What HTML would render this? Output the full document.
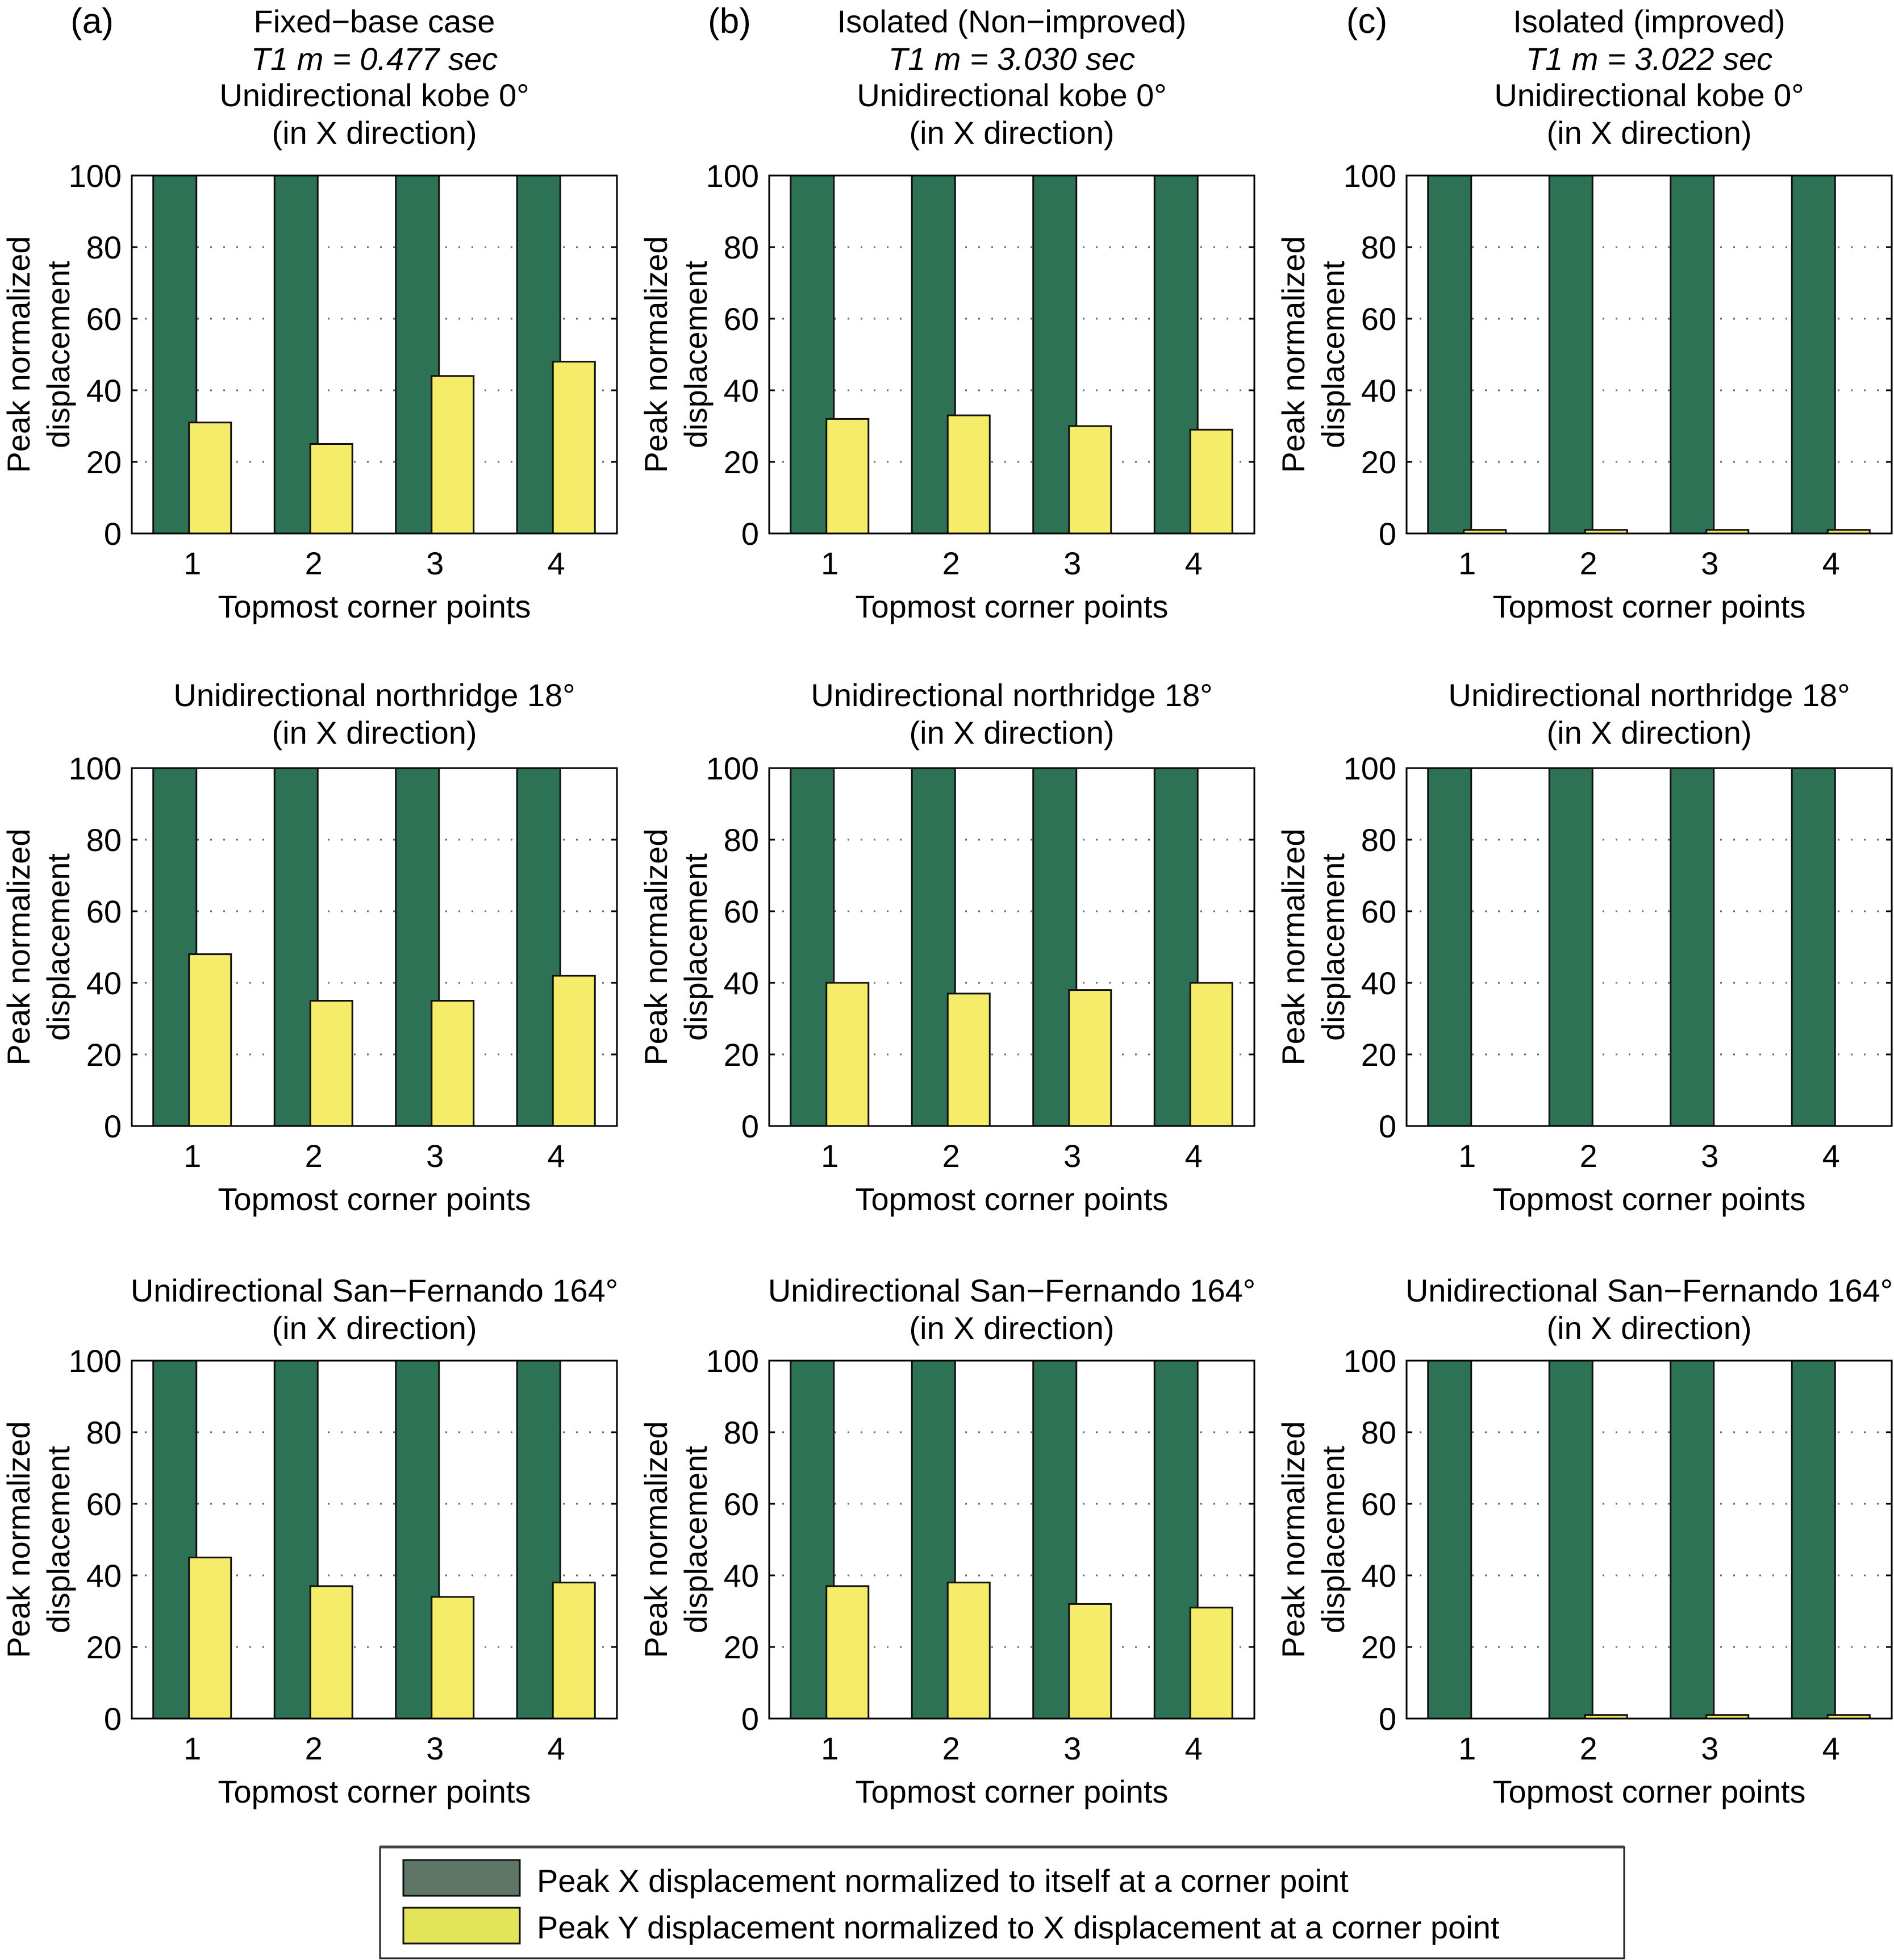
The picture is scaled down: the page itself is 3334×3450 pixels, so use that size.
<!DOCTYPE html>
<html><head><meta charset="utf-8"><style>
html,body{margin:0;padding:0;background:#fff;}
svg{display:block;font-family:"Liberation Sans",Arial,sans-serif;}
</style></head><body>
<svg id="fig" width="3334" height="3450" viewBox="0 0 3334 3450" xmlns="http://www.w3.org/2000/svg">
<rect width="3334" height="3450" fill="#fff"/>
<g>
<rect x="669" y="3251" width="2190" height="196" fill="#fff" stroke="#222" stroke-width="3"/>
<line x1="669" y1="3251" x2="2859" y2="3251" stroke="#444" stroke-width="5"/>
<rect x="710" y="3274" width="205" height="63" fill="#5f7565" stroke="#111" stroke-width="3"/>
<text x="945" y="3330" font-size="56">Peak X displacement normalized to itself at a corner point</text>
<rect x="710" y="3358" width="205" height="63" fill="#e2e459" stroke="#111" stroke-width="3"/>
<text x="945" y="3412" font-size="56">Peak Y displacement normalized to X displacement  at a corner point</text>
</g>
</svg>
<script>
const categories = [1, 2, 3, 4];
const yTicks = [0, 20, 40, 60, 80, 100];
const xSeriesA = [[100,100,100,100],[100,100,100,100],[100,100,100,100]];
const ySeriesA = [[31,25,44,48],[48,35,35,42],[45,37,34,38]];
const xSeriesB = [[100,100,100,100],[100,100,100,100],[100,100,100,100]];
const ySeriesB = [[32,33,30,29],[40,37,38,40],[37,38,32,31]];
const xSeriesC = [[100,100,100,100],[100,100,100,100],[100,100,100,100]];
const ySeriesC = [[1,1,1,1],[0,0,0,0],[0,1,1,1]];
const colTitles = [["Fixed\u2212base case","T1 m = 0.477 sec"],["Isolated (Non\u2212improved)","T1 m = 3.030 sec"],["Isolated (improved)","T1 m = 3.022 sec"]];
const colLetters = ["(a)","(b)","(c)"];
const rowTitles = ["Unidirectional kobe 0\u00b0","Unidirectional northridge 18\u00b0","Unidirectional San\u2212Fernando 164\u00b0"];

const NS="http://www.w3.org/2000/svg";
const svg=document.getElementById('fig');
function el(tag,attrs,parent){const e=document.createElementNS(NS,tag);for(const k in attrs)e.setAttribute(k,attrs[k]);(parent||svg).appendChild(e);return e;}
function txt(s,attrs,parent){const t=el('text',attrs,parent);t.textContent=s;return t;}

const colLeft=[232,1354,2476], W=854;
const rowTop=[309,1352,2395], H=630;
const subBase=[253,1309,2357];
const FS=56;
const xs=[xSeriesA,xSeriesB,xSeriesC], ys=[ySeriesA,ySeriesB,ySeriesC];

for(let c=0;c<3;c++){
  const L=colLeft[c], cx=L+W/2;
  const lt=txt(colLetters[c],{x:L-70,y:58,'font-size':62,'text-anchor':'middle'});
  
  
  const t1=txt(colTitles[c][0],{x:cx,y:57,'font-size':FS,'text-anchor':'middle'});
  
  
  const t2=txt(colTitles[c][1],{x:cx,y:123,'font-size':FS,'text-anchor':'middle','font-style':'italic'});
  
  
  for(let r=0;r<3;r++){
    const T=rowTop[r], B=T+H;
    const g=el('g',{});
    
    
    const yS=v=>B-v/100*H;
    const xC=i=>L+(i+0.5)*W/categories.length;
    const sb=subBase[r];
    const a=txt(rowTitles[r],{x:cx,y:sb-66,'font-size':FS,'text-anchor':'middle'},g);
    
    
    const b=txt('(in X direction)',{x:cx,y:sb,'font-size':FS,'text-anchor':'middle'},g);
    
    
    el('rect',{x:L,y:T,width:W,height:H,fill:'#fff'},g);
    yTicks.forEach(v=>{
      if(v>0&&v<100){
        const gl=el('line',{x1:L,x2:L+W,y1:yS(v),y2:yS(v),stroke:'#666','stroke-width':3,'stroke-dasharray':'3 20'},g);
        
        
      }
      el('line',{x1:L,x2:L+10,y1:yS(v),y2:yS(v),stroke:'#000','stroke-width':3},g);
      el('line',{x1:L+W-10,x2:L+W,y1:yS(v),y2:yS(v),stroke:'#000','stroke-width':3},g);
      const tl=txt(String(v),{x:L-18,y:yS(v)+20,'font-size':FS,'text-anchor':'end'},g);
      
      
    });
    categories.forEach((cat,i)=>{
      const gx=xC(i);
      const xv=xs[c][r][i], yv=ys[c][r][i];
      const gb=el('rect',{x:gx-69,y:yS(xv),width:76,height:B-yS(xv),fill:'#2e7256',stroke:'#111','stroke-width':3},g);
      
      
      if(yv>0){
        const yb=el('rect',{x:gx-6,y:yS(yv),width:74,height:B-yS(yv),fill:'#f5ec6a',stroke:'#111','stroke-width':3},g);
        
        
      }
      const xl=txt(String(cat),{x:gx,y:B+72,'font-size':FS,'text-anchor':'middle'},g);
      
      
    });
    el('rect',{x:L,y:T,width:W,height:H,fill:'none',stroke:'#000','stroke-width':3},g);
    const xt=txt('Topmost corner points',{x:cx,y:B+148,'font-size':FS,'text-anchor':'middle'},g);
    
    
    const my=(T+B)/2;
    const yt=el('text',{transform:`translate(${L-180},${my}) rotate(-90)`,'font-size':FS,'text-anchor':'middle'},g);
    
    
    const s1=el('tspan',{x:0,y:0},yt);s1.textContent='Peak normalized';
    const s2=el('tspan',{x:0,y:70},yt);s2.textContent='displacement';
  }
}
</script>
</body></html>
